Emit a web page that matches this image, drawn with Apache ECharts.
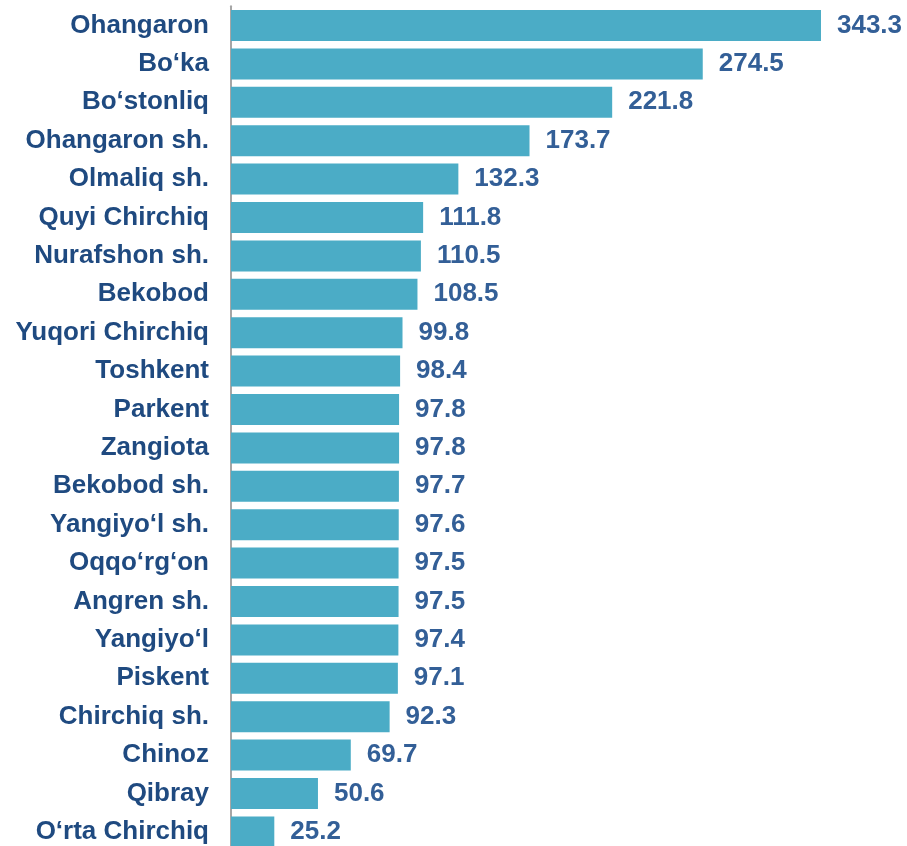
<!DOCTYPE html>
<html>
<head>
<meta charset="utf-8">
<script src="https://cdn.jsdelivr.net/npm/echarts@6/dist/echarts.min.js"></script>
<style>
  html, body { margin: 0; padding: 0; background: #fff; }
  #chart { width: 907px; height: 846px; }
</style>
</head>
<body>
<div id="chart"></div>
<script>
const categories = [
    'Ohangaron', 'Bo‘ka', 'Bo‘stonliq', 'Ohangaron sh.', 'Olmaliq sh.',
    'Quyi Chirchiq', 'Nurafshon sh.', 'Bekobod', 'Yuqori Chirchiq', 'Toshkent',
    'Parkent', 'Zangiota', 'Bekobod sh.', 'Yangiyo‘l sh.', 'Oqqo‘rg‘on',
    'Angren sh.', 'Yangiyo‘l', 'Piskent', 'Chirchiq sh.', 'Chinoz',
    'Qibray', 'O‘rta Chirchiq'
];
const values = [
    343.3, 274.5, 221.8, 173.7, 132.3,
    111.8, 110.5, 108.5, 99.8, 98.4,
    97.8, 97.8, 97.7, 97.6, 97.5,
    97.5, 97.4, 97.1, 92.3, 69.7,
    50.6, 25.2
];

const font = '"Liberation Sans"';

const myChart = echarts.init(document.getElementById('chart'));
const option = {
    animation: false,
    grid: {
        left: 231,
        top: 6.3,
        width: 601.5,
        height: 844.8,
        outerBoundsMode: 'none'
    },
    xAxis: {
        type: 'value',
        min: 0,
        max: 350,
        show: false
    },
    yAxis: {
        type: 'category',
        inverse: true,
        data: categories,
        axisLine: { lineStyle: { color: '#A6A6A6', width: 2 } },
        axisTick: { show: false },
        axisLabel: {
            margin: 22,
            color: '#1F4A80',
            fontFamily: font,
            fontWeight: 'bold',
            fontSize: 26
        }
    },
    series: [{
        type: 'bar',
        data: values,
        barWidth: 31,
        itemStyle: { color: '#4BACC6' },
        label: {
            show: true,
            position: 'right',
            distance: 16,
            color: '#335F97',
            fontFamily: font,
            fontWeight: 'bold',
            fontSize: 26,
            formatter: p => p.value.toFixed(1)
        }
    }]
};
myChart.setOption(option);
</script>
</body>
</html>
